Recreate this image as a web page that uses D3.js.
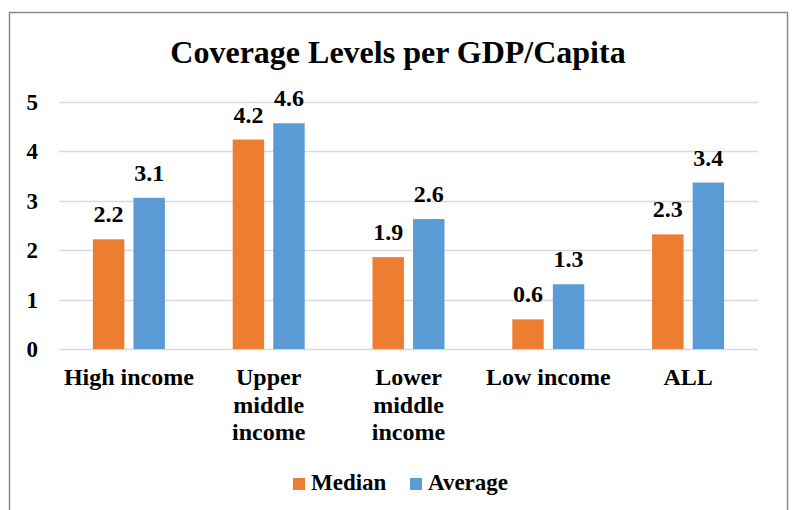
<!DOCTYPE html>
<html>
<head>
<meta charset="utf-8">
<script src="https://cdn.jsdelivr.net/npm/d3@7"></script>
<style>
  body { margin: 0; background: #fff; }
</style>
</head>
<body>
<script>
const categories = [["High income"], ["Upper", "middle", "income"], ["Lower", "middle", "income"], ["Low income"], ["ALL"]];
const seriesNames = ["Median", "Average"];
const median = [2.22, 4.24, 1.86, 0.60, 2.32];
const average = [3.06, 4.57, 2.63, 1.31, 3.37];
const yTicks = [0, 1, 2, 3, 4, 5];
const colors = ["#ED7D31", "#5B9BD5"];

const width = 795, height = 510;
const plot = {left: 59, right: 758, top: 102, bottom: 349};

const svg = d3.select("body").append("svg")
    .attr("width", width)
    .attr("height", height)
    .attr("font-family", "Liberation Serif")
    .attr("font-weight", "bold");

svg.append("rect")
    .attr("x", 9.5).attr("y", 12.5)
    .attr("width", 778).attr("height", 520)
    .attr("fill", "#fff")
    .attr("stroke", "#8a8a8a")
    .attr("stroke-width", 1.5);

svg.append("text")
    .attr("x", 398).attr("y", 63)
    .attr("text-anchor", "middle")
    .attr("font-size", 32)
    .text("Coverage Levels per GDP/Capita");

const y = d3.scaleLinear().domain([0, 5]).range([plot.bottom, plot.top]);
const x0 = d3.scaleBand().domain(d3.range(categories.length))
    .range([plot.left, plot.right]).paddingInner(0.485).paddingOuter(0.2425);
const x1 = d3.scaleBand().domain(seriesNames).range([0, x0.bandwidth()]).paddingInner(0.225);

// grid
svg.append("g").selectAll("line").data(yTicks).join("line")
    .attr("x1", plot.left).attr("x2", plot.right)
    .attr("y1", d => Math.round(y(d)) + 0.5).attr("y2", d => Math.round(y(d)) + 0.5)
    .attr("stroke", "#d9d9d9").attr("stroke-width", 1.5);

svg.append("g").selectAll("text").data(yTicks).join("text")
    .attr("x", 38).attr("y", d => y(d) + 8)
    .attr("text-anchor", "end")
    .attr("font-size", 23)
    .text(d => d);

const rows = categories.map((c, i) => ({i, values: [median[i], average[i]]}));

const groups = svg.append("g").selectAll("g").data(rows).join("g")
    .attr("transform", d => `translate(${x0(d.i)},0)`);

groups.selectAll("rect").data(d => d.values.map((v, k) => ({v, k}))).join("rect")
    .attr("x", d => x1(seriesNames[d.k]))
    .attr("width", x1.bandwidth())
    .attr("y", d => y(d.v))
    .attr("height", d => y(0) - y(d.v))
    .attr("fill", d => colors[d.k]);

groups.selectAll("text.val").data(d => d.values.map((v, k) => ({v, k}))).join("text")
    .attr("class", "val")
    .attr("x", d => x1(seriesNames[d.k]) + x1.bandwidth() / 2)
    .attr("y", d => y(d.v) - 17)
    .attr("text-anchor", "middle")
    .attr("font-size", 24)
    .text(d => d3.format(".1f")(d.v));

// category labels
svg.append("g").selectAll("text").data(categories).join("text")
    .attr("text-anchor", "middle")
    .attr("font-size", 24)
    .attr("transform", (d, i) => `translate(${x0(i) + x0.bandwidth() / 2},385)`)
    .selectAll("tspan").data(d => d).join("tspan")
    .attr("x", 0).attr("y", (d, j) => j * 27.5)
    .text(d => d);

// legend
const legendX = [293, 410];
const legend = svg.append("g").selectAll("g").data(seriesNames).join("g")
    .attr("transform", (d, i) => `translate(${legendX[i]},478)`);
legend.append("rect").attr("width", 12).attr("height", 12).attr("fill", (d, i) => colors[i]);
legend.append("text").attr("x", 18).attr("y", 12).attr("font-size", 23).text(d => d);
</script>
</body>
</html>
